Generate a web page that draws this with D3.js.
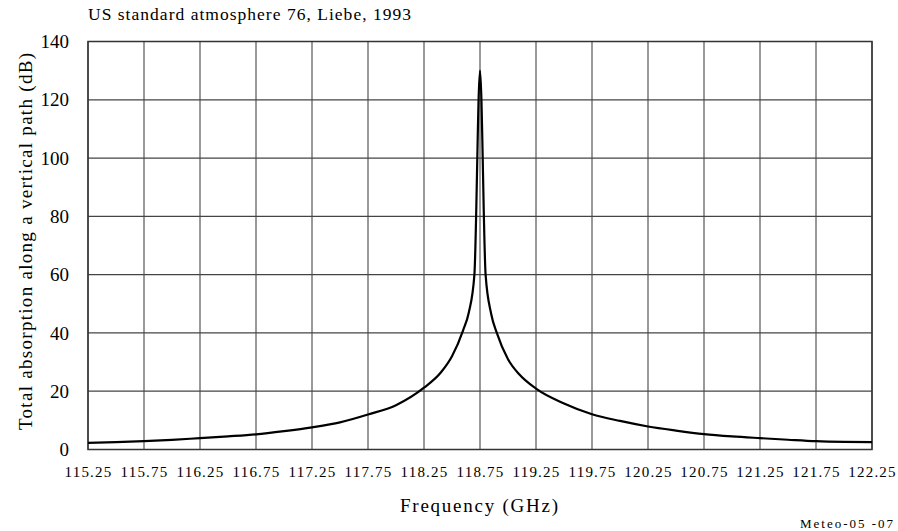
<!DOCTYPE html>
<html>
<head>
<meta charset="utf-8">
<script src="https://cdn.jsdelivr.net/npm/d3@7"></script>
<style>
  html, body { margin: 0; padding: 0; background: #fff; }
  svg { display: block; }
  text { font-family: "Liberation Serif", "Times New Roman", serif; fill: #000; }
</style>
</head>
<body>
<svg id="chart" width="898" height="531"></svg>
<script>
// ---- Data ----
const freqs = [115.25, 115.50, 115.75, 116.00, 116.25, 116.50, 116.75, 117.00, 117.25, 117.50,
               117.75, 118.00, 118.25, 118.40, 118.50, 118.60, 118.65, 118.70, 118.75,
               118.80, 118.85, 118.90, 119.00, 119.10, 119.25, 119.50, 119.75, 120.00,
               120.25, 120.50, 120.75, 121.00, 121.25, 121.50, 121.75, 122.00, 122.25];
const absorption = [2.3, 2.5, 2.85, 3.3, 3.9, 4.5, 5.2, 6.3, 7.6, 9.3,
                    12.0, 15.2, 21.2, 26.4, 32, 41, 47, 60, 130,
                    60, 46.5, 40, 31, 25.8, 20.9, 15.8, 12.1, 9.8,
                    7.9, 6.5, 5.3, 4.5, 3.9, 3.35, 2.85, 2.6, 2.5];
const xTicks = [115.25, 115.75, 116.25, 116.75, 117.25, 117.75, 118.25, 118.75,
                119.25, 119.75, 120.25, 120.75, 121.25, 121.75, 122.25];
const yTicks = [0, 20, 40, 60, 80, 100, 120, 140];
const titleText = "US standard atmosphere 76, Liebe, 1993";
const xLabel = "Frequency (GHz)";
const yLabel = "Total absorption along a vertical path (dB)";
const noteText = "Meteo-05 -07";

// ---- Layout ----
const svg = d3.select("#chart");
const L = 88, R = 872, T = 41.5, B = 449.5;

const x = d3.scaleLinear().domain([115.25, 122.25]).range([L, R]);
const y = d3.scaleLinear().domain([0, 140]).range([B, T]);

// Gridlines
const grid = svg.append("g");
grid.selectAll("line.v").data(xTicks).enter().append("line")
  .attr("x1", d => x(d)).attr("x2", d => x(d))
  .attr("y1", T).attr("y2", B)
  .attr("stroke", "#555").attr("stroke-width", 1.2);
grid.selectAll("line.h").data(yTicks).enter().append("line")
  .attr("x1", L).attr("x2", R)
  .attr("y1", d => y(d)).attr("y2", d => y(d))
  .attr("stroke", "#444").attr("stroke-width", 1.2);

// Frame
svg.append("rect").attr("x", L).attr("y", T).attr("width", R - L).attr("height", B - T)
  .attr("fill", "none").attr("stroke", "#333").attr("stroke-width", 1.5);

// Axes (labels only)
const xAxis = d3.axisBottom(x).tickValues(xTicks).tickFormat(d3.format(".2f")).tickSize(0).tickPadding(0);
const gx = svg.append("g").attr("transform", `translate(0,${B})`).call(xAxis);
gx.select(".domain").remove();
gx.selectAll("text")
  .attr("y", 27).attr("dy", 0)
  .style("font-family", '"Liberation Serif", serif')
  .style("font-size", "15px")
  .style("letter-spacing", "1.2px")
  .attr("fill", "#000");

const yAxis = d3.axisLeft(y).tickValues(yTicks).tickSize(0).tickPadding(0);
const gy = svg.append("g").attr("transform", `translate(${L},0)`).call(yAxis);
gy.select(".domain").remove();
gy.selectAll("text")
  .attr("x", -19).attr("dy", "0.32em")
  .style("font-family", '"Liberation Serif", serif')
  .style("font-size", "19px")
  .attr("fill", "#000");

// Curve
const pts = freqs.map((f, i) => [f, absorption[i]]);
svg.append("path").datum(pts)
  .attr("fill", "none").attr("stroke", "#000").attr("stroke-width", 2.2)
  .attr("stroke-linejoin", "round")
  .attr("d", d3.line().x(d => x(d[0])).y(d => y(d[1])).curve(d3.curveMonotoneX));

// Texts
svg.append("text").attr("x", L).attr("y", 20).style("font-size", "17.5px")
  .attr("textLength", 323).attr("lengthAdjust", "spacing").text(titleText);
svg.append("text").attr("x", 400).attr("y", 512)
  .style("font-size", "19px").attr("textLength", 158).attr("lengthAdjust", "spacing").text(xLabel);
svg.append("text").attr("transform", `translate(32,430) rotate(-90)`)
  .style("font-size", "19px").attr("textLength", 377).attr("lengthAdjust", "spacing").text(yLabel);
svg.append("text").attr("x", 800).attr("y", 528)
  .style("font-size", "13px").attr("textLength", 93).attr("lengthAdjust", "spacing").text(noteText);
</script>
</body>
</html>
